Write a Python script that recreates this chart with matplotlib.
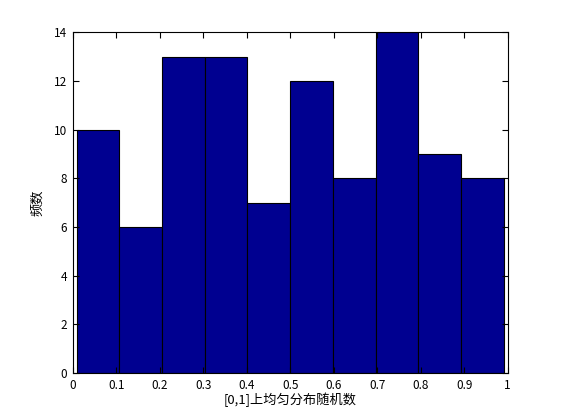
import numpy as np
import matplotlib
matplotlib.use('Agg')
import matplotlib.pyplot as plt

plt.rcParams['font.family'] = ['Noto Sans CJK SC', 'DejaVu Sans']

# histogram (bins span data min..max, MATLAB hist style)
counts = [10, 6, 13, 13, 7, 12, 8, 14, 9, 8]
data_min = 0.0085
data_max = 0.991
xticks = [0, 0.1, 0.2, 0.3, 0.4, 0.5, 0.6, 0.7, 0.8, 0.9, 1]
yticks = [0, 2, 4, 6, 8, 10, 12, 14]

edges = np.linspace(data_min, data_max, len(counts) + 1)
width = edges[1] - edges[0]

fig = plt.figure(figsize=(5.61, 4.2), dpi=100)
ax = fig.add_axes([0.13, 0.112, 0.775, 0.811])
ax.bar(edges[:-1], counts, width=width, align='edge',
       color='#000090', edgecolor='black', linewidth=0.8)
ax.set_xlim(0, 1)
ax.set_ylim(0, 14)
ax.set_xticks(xticks)
ax.set_xticklabels(['0', '0.1', '0.2', '0.3', '0.4', '0.5', '0.6', '0.7', '0.8', '0.9', '1'])
ax.set_yticks(yticks)
ax.tick_params(direction='in', top=True, right=True, labelsize=8.5, length=4, width=0.8, pad=4)
for s in ax.spines.values():
    s.set_linewidth(0.8)
ax.set_xlabel('[0,1]上均匀分布随机数', fontsize=9.5, labelpad=1)
ax.set_ylabel('频数', fontsize=9.5, labelpad=7)

fig.savefig('out.png', dpi=100)
